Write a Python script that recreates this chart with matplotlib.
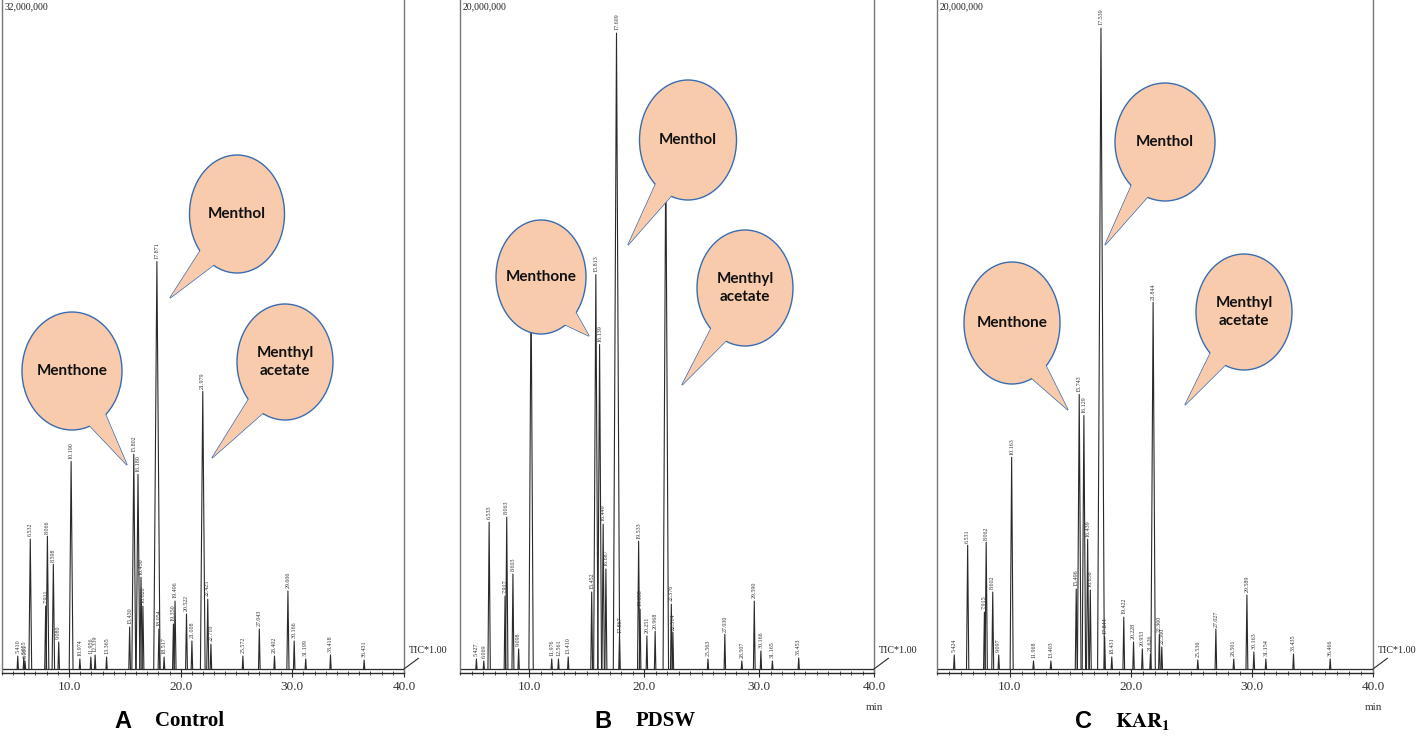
import numpy as np
import matplotlib
matplotlib.use("Agg")
import matplotlib.pyplot as plt
from matplotlib.patches import Ellipse, Polygon
from matplotlib.ticker import MultipleLocator, FixedLocator

# --------------------------------------------------------------------
# Peak tables (rt in min, height in 10^6 counts)
# --------------------------------------------------------------------
control_rt = [5.410, 5.955, 6.061, 6.532, 7.911, 8.066, 8.598, 9.080, 10.190,
              10.974, 11.956, 12.339, 13.365, 15.430, 15.802, 16.180, 16.450,
              16.620, 17.871, 18.054, 18.517, 19.350, 19.496, 20.522, 21.008,
              21.979, 22.425, 22.710, 25.572, 27.043, 28.402, 29.606, 30.166,
              31.199, 33.418, 36.431]
control_h = [0.62, 0.57, 0.38, 6.21, 3.01, 6.35, 5.01, 1.29, 9.93,
             0.48, 0.57, 0.67, 0.57, 2.01, 10.27, 9.31, 4.39,
             3.01, 19.49, 1.91, 0.57, 2.15, 3.25, 2.63, 1.34,
             13.28, 3.34, 1.19, 0.62, 1.91, 0.62, 3.73, 1.34,
             0.48, 0.67, 0.43]

pdsw_rt = [5.427, 6.069, 6.533, 7.917, 8.063, 8.603, 9.098, 10.179, 11.976,
           12.561, 13.410, 15.452, 15.813, 16.139, 16.449, 16.687, 17.609,
           17.867, 19.533, 19.658, 20.251, 20.968, 21.896, 22.376, 22.514,
           25.563, 27.030, 28.507, 29.590, 30.166, 31.165, 33.453]
pdsw_h = [0.30, 0.24, 4.39, 2.18, 4.54, 2.84, 0.60, 11.58, 0.30,
          0.30, 0.36, 2.30, 11.79, 9.70, 4.33, 2.99, 19.01,
          0.99, 3.82, 1.79, 0.99, 1.13, 15.58, 1.94, 1.10,
          0.30, 1.04, 0.24, 2.03, 0.54, 0.24, 0.33]

kar_rt = [5.424, 6.531, 7.915, 8.062, 8.602, 9.097, 10.163, 11.968, 13.403,
          15.496, 15.743, 16.129, 16.439, 16.658, 17.539, 17.844, 18.431,
          19.422, 20.228, 20.953, 21.626, 21.844, 22.360, 22.560, 25.536,
          27.027, 28.501, 29.589, 30.163, 31.154, 33.435, 36.466]
kar_h = [0.42, 3.70, 1.70, 3.79, 2.30, 0.42, 6.33, 0.24, 0.24,
         2.39, 8.21, 7.58, 3.88, 2.36, 19.16, 0.96, 0.36,
         1.55, 0.81, 0.60, 0.45, 10.96, 1.04, 0.66, 0.27,
         1.19, 0.30, 2.21, 0.51, 0.30, 0.45, 0.30]

full_scale = [32.0, 20.0, 20.0]          # 10^6 counts
scale_labels = ["32,000,000", "20,000,000", "20,000,000"]
panel_letters = ["A", "B", "C"]
panel_names = ["Control", "PDSW", r"$\mathbf{KAR_1}$"]

# bubbles: (text, centre x, centre y, width, height, tail tip x, tail tip y) in pixels
bubbles = [
    ("Menthol", 237, 214, 95, 118, 170, 298),
    ("Menthone", 72, 371, 100, 118, 127, 465),
    ("Menthyl\nacetate", 285, 362, 96, 116, 212, 458),
    ("Menthone", 541, 277, 90, 114, 589, 336),
    ("Menthol", 688, 140, 97, 120, 628, 245),
    ("Menthyl\nacetate", 745, 288, 96, 116, 682, 385),
    ("Menthone", 1012, 323, 96, 122, 1068, 410),
    ("Menthol", 1165, 142, 100, 118, 1105, 245),
    ("Menthyl\nacetate", 1244, 312, 96, 116, 1185, 405),
]

W, H = 1417, 736
# axes boxes in pixels: left, right
boxes = [(2, 404), (460, 874), (937, 1373)]
AX_TOP, AX_BOT = 0, 673

serif = "Liberation Serif"
fig = plt.figure(figsize=(W / 100, H / 100), dpi=100)

series = [(control_rt, control_h), (pdsw_rt, pdsw_h), (kar_rt, kar_h)]
ink = "#2a2a2a"

for i, ((rts, hs), (x0, x1)) in enumerate(zip(series, boxes)):
    ax = fig.add_axes([x0 / W, (H - AX_BOT) / H, (x1 - x0) / W, (AX_BOT - AX_TOP) / H])
    ymax = full_scale[i]
    ax.set_xlim(4.0, 40.0)
    ax.set_ylim(-ymax * 0.006, ymax)

    ax.plot([4.0, 40.0], [0, 0], color=ink, lw=0.9)
    for rt, h in zip(rts, hs):
        w = 0.05 + 0.012 * h
        ax.plot([rt - w, rt, rt + w], [0, h, 0], color=ink, lw=0.8)
        ax.text(rt, h + ymax * 0.004, f"{rt:.3f}", rotation=90, ha="center",
                va="bottom", fontsize=4.3, family=serif, color="#333333")

    ax.spines["top"].set_visible(False)
    for side in ["left", "right"]:
        ax.spines[side].set_color("#777777")
        ax.spines[side].set_linewidth(1.0)
    ax.spines["bottom"].set_color(ink)
    ax.spines["bottom"].set_linewidth(1.0)
    ax.set_yticks([])
    ax.xaxis.set_major_locator(FixedLocator([10, 20, 30, 40]))
    ax.xaxis.set_minor_locator(MultipleLocator(1.0))
    ax.set_xticklabels(["10.0", "20.0", "30.0", "40.0"], family=serif, fontsize=9.5,
                       color="#333333")
    ax.tick_params(axis="x", which="major", direction="inout", length=6, width=0.8,
                   color=ink, pad=3)
    ax.tick_params(axis="x", which="minor", direction="inout", length=3, width=0.6,
                   color=ink)
    ax.patch.set_alpha(0)

    ax.text(0.006, 0.997, scale_labels[i], transform=ax.transAxes, ha="left", va="top",
            fontsize=7, family=serif, color="#222222")
    ax.annotate("TIC*1.00", xy=(1.0, 0.006), xycoords="axes fraction",
                xytext=(5, 18), textcoords="offset pixels", ha="left", va="center",
                fontsize=7.2, family=serif, color="#222222",
                arrowprops=dict(arrowstyle="-", color=ink, lw=0.8,
                                shrinkA=0, shrinkB=0))
    if i > 0:
        ax.text(1.0, -0.045, "min", transform=ax.transAxes, ha="center", va="top",
                fontsize=8, family=serif, color="#333333")

# overlay in pixel coordinates for bubbles and panel captions
ov = fig.add_axes([0, 0, 1, 1], zorder=10)
ov.set_xlim(0, W)
ov.set_ylim(H, 0)
ov.axis("off")
ov.patch.set_alpha(0)

fill = "#F8CBAD"
edge = "#3A6CB0"
for text, cx, cy, bw, bh, tx, ty in bubbles:
    phi = np.arctan2(ty - cy, tx - cx)
    pts = []
    for d in (-0.26, 0.26):
        a = phi + d
        pts.append((cx + 0.42 * bw * np.cos(a), cy + 0.42 * bh * np.sin(a)))
    tail = [pts[0], (tx, ty), pts[1]]
    ov.add_patch(Polygon(tail, closed=True, facecolor=fill, edgecolor=edge, lw=1.0, zorder=1))
    ov.add_patch(Ellipse((cx, cy), bw, bh, facecolor=fill, edgecolor=edge, lw=1.0, zorder=2))
    ov.add_patch(Polygon(tail, closed=True, facecolor=fill, edgecolor="none", zorder=3))
    ov.text(cx, cy, text, ha="center", va="center", fontsize=11, fontweight="bold",
            family="Lato", color="#111111", zorder=4, linespacing=1.45)

caption_x = [(123, 155), (603, 636), (1084, 1115)]
for (lx, nx), letter, name in zip(caption_x, panel_letters, panel_names):
    ov.text(lx, 721, letter, ha="center", va="center", fontsize=17, fontweight="bold",
            family="Liberation Sans", color="#000000")
    ov.text(nx, 721, name, ha="left", va="center", fontsize=15, fontweight="bold",
            family=serif, color="#000000", math_fontfamily="stix")

fig.savefig("out.png", dpi=100)
